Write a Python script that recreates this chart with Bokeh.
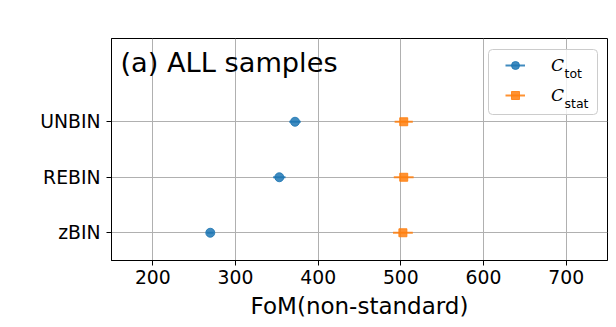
from bokeh.plotting import figure
from bokeh.models import (Range1d, FixedTicker, Legend, LegendItem, Label,
                          BoxAnnotation, ColumnDataSource)
from bokeh.embed import file_html
from bokeh.resources import INLINE

# ---- data ----
categories = ["zBIN", "REBIN", "UNBIN"]
cat_pos = [0, 1, 2]
tot_values = [269.5, 353.0, 372.0]
tot_errors = [4.0, 7.5, 7.0]
stat_values = [502.5, 503.5, 503.5]
stat_errors = [12.0, 12.0, 11.0]
x_ticks = [200, 300, 400, 500, 600, 700]
title_text = "(a) ALL samples"
x_label = "FoM(non-standard)"
legend_main = ["C", "C"]
legend_subs = ["tot", "stat"]

BLUE = "#1f77b4"
ORANGE = "#ff7f0e"

p = figure(width=616, height=327, output_backend="svg", toolbar_location=None,
           x_range=Range1d(150, 750), y_range=Range1d(-0.5, 3.5),
           min_border_left=111, min_border_right=9, min_border_top=38,
           min_border_bottom=67)
p.background_fill_color = "white"
p.border_fill_color = "white"
p.outline_line_color = "black"
p.outline_line_width = 1
p.outline_line_alpha = 1

# axes
p.xaxis.ticker = FixedTicker(ticks=x_ticks)
p.yaxis.ticker = FixedTicker(ticks=cat_pos)
p.yaxis.major_label_overrides = {c: l for c, l in zip(cat_pos, categories)}
for ax in (p.xaxis, p.yaxis):
    ax.axis_line_color = "black"
    ax.major_tick_line_color = "black"
    ax.major_tick_out = 5
    ax.major_tick_in = 0
    ax.minor_tick_line_color = None
    ax.major_label_text_font = "DejaVu Sans"
    ax.major_label_text_font_size = "18.8px"
    ax.major_label_text_color = "black"
p.xaxis.major_label_standoff = 4
p.yaxis.major_label_standoff = 6
p.xaxis.axis_label = x_label
p.xaxis.axis_label_text_font = "DejaVu Sans"
p.xaxis.axis_label_text_font_size = "23px"
p.xaxis.axis_label_text_font_style = "normal"
p.xaxis.axis_label_text_color = "black"
p.xaxis.axis_label_standoff = 6

p.xgrid.grid_line_color = "#b0b0b0"
p.ygrid.grid_line_color = "#b0b0b0"
p.xgrid.grid_line_width = 1
p.ygrid.grid_line_width = 1

# ---- data marks ----
src_tot = ColumnDataSource(dict(
    y=cat_pos, x=tot_values,
    x0=[v - e for v, e in zip(tot_values, tot_errors)],
    x1=[v + e for v, e in zip(tot_values, tot_errors)]))
src_stat = ColumnDataSource(dict(
    y=cat_pos, x=stat_values,
    x0=[v - e for v, e in zip(stat_values, stat_errors)],
    x1=[v + e for v, e in zip(stat_values, stat_errors)]))

seg_tot = p.segment(x0="x0", x1="x1", y0="y", y1="y", source=src_tot,
                    line_color=BLUE, line_width=2, line_alpha=0.85)
sc_tot = p.scatter(x="x", y="y", source=src_tot, marker="circle", size=9,
                   fill_color=BLUE, line_color=BLUE, fill_alpha=0.85, line_alpha=0.85)
seg_stat = p.segment(x0="x0", x1="x1", y0="y", y1="y", source=src_stat,
                     line_color=ORANGE, line_width=2, line_alpha=0.85)
sc_stat = p.scatter(x="x", y="y", source=src_stat, marker="square", size=8,
                    fill_color=ORANGE, line_color=ORANGE, fill_alpha=0.85, line_alpha=0.85)

# title inside the axes
p.add_layout(Label(x=150, y=3.5, x_offset=9, y_offset=-24, text=title_text,
                   text_font="DejaVu Sans", text_font_size="27.2px",
                   text_baseline="alphabetic", text_align="left", text_color="black"))

# legend frame
p.add_layout(BoxAnnotation(left=377, right=486, bottom=146, top=211,
                           left_units="screen", right_units="screen",
                           bottom_units="screen", top_units="screen",
                           fill_color="white", fill_alpha=0.8,
                           line_color="#cccccc", line_alpha=1, line_width=1,
                           border_radius=4, level="annotation"))

legend = Legend(items=[
    LegendItem(label=legend_main[0], renderers=[seg_tot, sc_tot]),
    LegendItem(label=legend_main[1], renderers=[seg_stat, sc_stat]),
], location=(394, 155), orientation="vertical",
    glyph_width=20, glyph_height=20, label_height=20, label_width=10,
    spacing=10, padding=0, margin=0, label_standoff=26,
    label_text_font="DejaVu Serif", label_text_font_style="italic",
    label_text_font_size="17px", label_text_color="black",
    border_line_alpha=0, background_fill_alpha=0)
p.add_layout(legend)

for sub, yb in zip(legend_subs, [187, 157]):
    p.add_layout(Label(x=453, y=yb, x_units="screen", y_units="screen",
                       text=sub, text_font="DejaVu Sans", text_font_size="12.5px",
                       text_baseline="alphabetic", text_align="left",
                       text_color="black"))

open("out.html", "w").write(file_html(p, INLINE))
